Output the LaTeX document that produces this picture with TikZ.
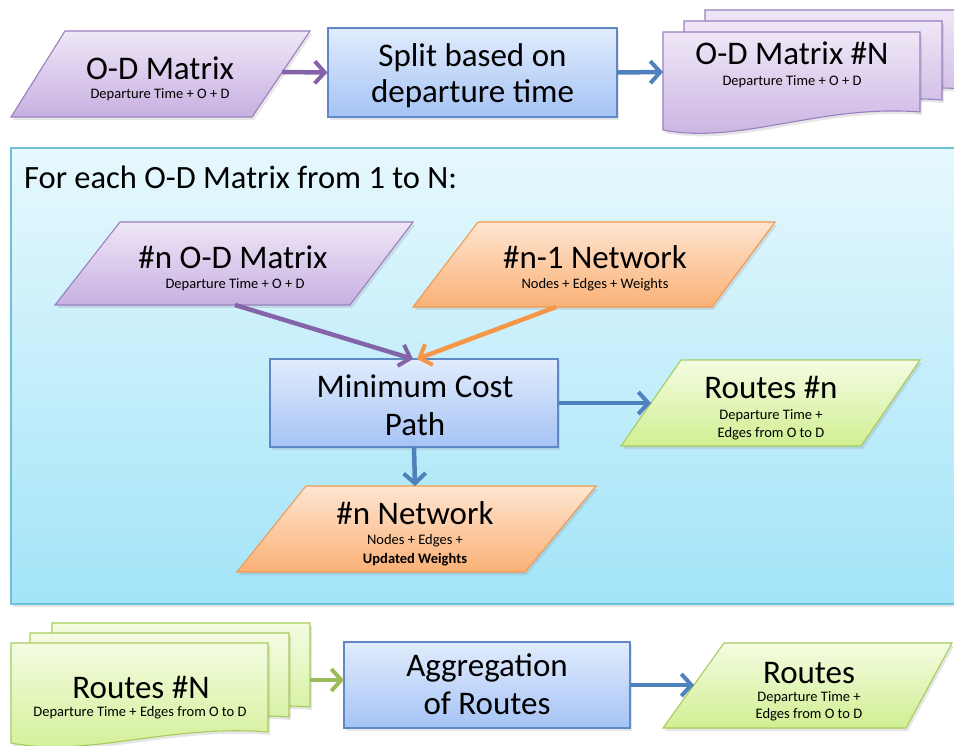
\documentclass[tikz,border=0pt]{standalone}
\usepackage{fontspec}
\setmainfont{Carlito}
\usetikzlibrary{arrows.meta,shadows}
\definecolor{purpT}{HTML}{EFE7F7}
\definecolor{purpB}{HTML}{C7B0E1}
\definecolor{purpD}{HTML}{9A80C0}
\definecolor{blueT}{HTML}{E1ECFD}
\definecolor{blueB}{HTML}{A5C3F5}
\definecolor{blueD}{HTML}{5E88C6}
\definecolor{orT}{HTML}{FEE5D1}
\definecolor{orB}{HTML}{FAB176}
\definecolor{orD}{HTML}{F29A50}
\definecolor{grT}{HTML}{F4FCE2}
\definecolor{grB}{HTML}{D1EF92}
\definecolor{grD}{HTML}{A6CC5E}
\definecolor{cyT}{HTML}{E6F8FD}
\definecolor{cyB}{HTML}{A2E4F8}
\definecolor{cyD}{HTML}{6EC2D8}
\definecolor{arPurp}{HTML}{8464A8}
\definecolor{arBlue}{HTML}{4F81BD}
\definecolor{arOr}{HTML}{F79646}
\definecolor{arGr}{HTML}{9BBB59}
\begin{document}
\begin{tikzpicture}[x=1pt,y=-1pt,
  txtbig/.style={font=\fontsize{33}{38}\selectfont, anchor=base, inner sep=0pt},
  txtsmall/.style={font=\fontsize{14.5}{17}\selectfont, anchor=base, inner sep=0pt},
  shd/.style={drop shadow={opacity=0.2,shadow xshift=2pt,shadow yshift=-3pt}},
  purpfill/.style={draw=purpD, line width=1.1pt, top color=purpT, bottom color=purpB, shd},
  bluefill/.style={draw=blueD, line width=1.1pt, top color=blueT, bottom color=blueB, shd},
  orfill/.style={draw=orD, line width=1.1pt, top color=orT, bottom color=orB, shd},
  grfill/.style={draw=grD, line width=1.1pt, top color=grT, bottom color=grB, shd},
  procbox/.style={rectangle, bluefill, inner sep=0pt},
  arr/.style={line width=4.5pt, -{Straight Barb[length=10pt,width=22pt,line width=4pt]}}
]
\useasboundingbox (0,0) rectangle (954,746);
\clip (0,0) rectangle (954,746);

% ---------- top row ----------
\path[purpfill] (65,31) -- (310,31) -- (252,117) -- (11,117) -- cycle;
\coordinate (odE) at (282,72);
\node[txtbig] (odT) at (160,80) {O-D Matrix};
\node[txtsmall] (odS) at (160,99) {Departure Time + O + D};

\node[procbox, minimum width=289pt, minimum height=89pt] (split) at (472.5,72.5) {};
\node[txtbig] (splitA) at (472.5,67) {Split based on};
\node[txtbig] (splitB) at (472.5,103) {departure time};

\path[purpfill] (705,10) -- (963,10) -- (963,89) .. controls (863,81) and (782,122) .. (705,107) -- cycle;
\path[purpfill] (684,21) -- (942,21) -- (942,100) .. controls (842,92) and (761,133) .. (684,118) -- cycle;
\path[purpfill] (663,32) -- (920,32) -- (920,112) .. controls (820,104) and (740,145) .. (663,130) -- cycle;
\coordinate (odnW) at (663,72);
\node[txtbig] (odnT) at (792,65) {O-D Matrix \#N};
\node[txtsmall] (odnS) at (792,86) {Departure Time + O + D};

\draw[arr, arPurp] (odE) -- (split.west);
\draw[arr, arBlue] (split.east) -- (odnW);

% ---------- loop box ----------
\path[draw=cyD, line width=1.1pt, top color=cyT, bottom color=cyB, shd] (11,148) rectangle (975,604);
\node[font=\fontsize{32.5}{38}\selectfont, anchor=base west, inner sep=0pt] (loopT) at (24,189) {For each O-D Matrix from 1 to N:};

\path[purpfill] (120,222) -- (413,222) -- (350,305) -- (55,305) -- cycle;
\coordinate (nodS) at (235,305);
\node[txtbig] (nodT) at (233,269) {\#n O-D Matrix};
\node[txtsmall] (nodSub) at (235,289) {Departure Time + O + D};

\path[orfill] (478,222) -- (775,222) -- (712,307) -- (413,307) -- cycle;
\coordinate (netS) at (556,307);
\node[txtbig] (netT) at (595,269) {\#n-1 Network};
\node[txtsmall] (netSub) at (595,289) {Nodes + Edges + Weights};

\node[procbox, minimum width=288pt, minimum height=88pt] (mcp) at (414,403) {};
\node[txtbig] (mcpA) at (415,397) {Minimum Cost};
\node[txtbig] (mcpB) at (415,435) {Path};
\coordinate (mcpIn1) at (413,359);
\coordinate (mcpIn2) at (417,359);

\path[grfill] (681,360) -- (920,360) -- (861,446) -- (621,446) -- cycle;
\coordinate (rnW) at (651,403);
\node[txtbig] (rnT) at (771,398) {Routes \#n};
\node[txtsmall] (rnS1) at (771,419) {Departure Time +};
\node[txtsmall] (rnS2) at (771,437) {Edges from O to D};

\path[orfill] (306,486) -- (596,486) -- (525,572) -- (237,572) -- cycle;
\coordinate (nnN) at (415,486);
\node[txtbig] (nnT) at (415,524) {\#n Network};
\node[txtsmall] (nnS1) at (415,544) {Nodes + Edges +};
\node[txtsmall, font=\fontsize{14.5}{17}\selectfont\bfseries] (nnS2) at (415,563) {Updated Weights};

\draw[arr, arPurp] (nodS) -- (mcpIn1);
\draw[arr, arOr] (netS) -- (mcpIn2);
\draw[arr, arBlue] (mcp.east) -- (rnW);
\draw[arr, arBlue] (mcp.south) -- (nnN);

% ---------- bottom row ----------
\path[grfill] (52,623) -- (310,623) -- (310,707) .. controls (210,699) and (129,735) .. (52,720) -- cycle;
\path[grfill] (30,633) -- (289,633) -- (289,717) .. controls (189,709) and (107,745) .. (30,730) -- cycle;
\path[grfill] (11,643) -- (268,643) -- (268,732) .. controls (168,724) and (88,758) .. (11,743) -- cycle;
\coordinate (rNE) at (310,680);
\node[txtbig] (rNT) at (141,698) {Routes \#N};
\node[txtsmall] (rNS) at (140,716) {Departure Time + Edges from O to D};

\node[procbox, minimum width=286pt, minimum height=86pt] (agg) at (487,685) {};
\node[txtbig] (aggA) at (487,676) {Aggregation};
\node[txtbig] (aggB) at (487,714) {of Routes};
\coordinate (aggIn) at (344,680);

\path[grfill] (724,643) -- (952,643) -- (906,728) -- (663,728) -- cycle;
\coordinate (rW) at (694,685);
\node[txtbig] (rT) at (809,683) {Routes};
\node[txtsmall] (rS1) at (809,701) {Departure Time +};
\node[txtsmall] (rS2) at (809,718) {Edges from O to D};

\draw[arr, arGr] (rNE) -- (aggIn);
\draw[arr, arBlue] (agg.east) -- (rW);
\end{tikzpicture}
\end{document}
